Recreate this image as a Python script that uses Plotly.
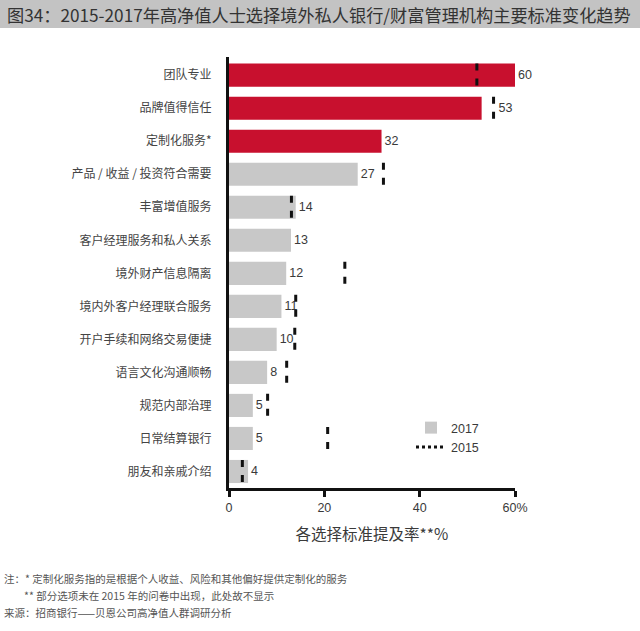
import plotly.graph_objects as go

categories = ['团队专业', '品牌值得信任', '定制化服务*', '产品 / 收益 / 投资符合需要', '丰富增值服务',
              '客户经理服务和私人关系', '境外财产信息隔离', '境内外客户经理联合服务', '开户手续和网络交易便捷',
              '语言文化沟通顺畅', '规范内部治理', '日常结算银行', '朋友和亲戚介绍']
values_2017 = [60, 53, 32, 27, 14, 13, 12, 11, 10, 8, 5, 5, 4]
values_2015 = [52, 55.5, None, 32.4, 13.1, None, 24.3, 14, 13.8, 12.1, 8.1, 20.7, 2.8]
highlight = [True, True, True] + [False] * 10
x_ticks = [0, 20, 40, 60]
x_tick_labels = ['0', '20', '40', '60%']

RED = '#c8102e'
GREY = '#c8c8c8'
TXT = '#3a3a3a'
FONT = 'Noto Sans CJK SC'
NUM_FONT = 'Arial, Liberation Sans'

# plot area in pixels, used to place paper-referenced decorations
L, R, T, B = 229, 515, 57, 488
W, H = R - L, B - T


def px_x(p):
    return (p - L) / W


def px_y(p):
    return (B - p) / H


ypos = list(range(len(categories)))
# value label moves past the 2015 dash when the dash sits right at the bar end
labels = []
for v, old in zip(values_2017, values_2015):
    pad = '    ' if old is not None and 1 < old - v < 3 else ''
    labels.append(pad + str(v))

fig = go.Figure()
fig.add_trace(go.Bar(
    x=values_2017, y=ypos, orientation='h',
    marker=dict(color=[RED if h else GREY for h in highlight], line=dict(width=0)),
    text=labels, textposition='outside', cliponaxis=False,
    textfont=dict(size=12.5, color=TXT, family=NUM_FONT),
    width=0.7, showlegend=False, hoverinfo='skip',
))
# legend entry for 2017 (grey square)
fig.add_trace(go.Bar(x=[None], y=[None], orientation='h', name='2017',
                     marker=dict(color=GREY, line=dict(width=0))))

# 2015: short dashed vertical bars across each category
xs, ys = [], []
for i, v in enumerate(values_2015):
    if v is None:
        continue
    xs += [v, v, None]
    ys += [i - 0.35, i + 0.35, None]
fig.add_trace(go.Scatter(
    x=xs, y=ys, mode='lines', line=dict(color='#111111', width=3, dash='7px,8px'),
    showlegend=False, hoverinfo='skip',
))
fig.add_trace(go.Scatter(
    x=[None], y=[None], mode='lines', name='2015',
    line=dict(color='#111111', width=3, dash='3px,3px'),
))

fig.update_layout(
    width=640, height=631,
    margin=dict(l=L, r=640 - R, t=T, b=631 - B),
    plot_bgcolor='white', paper_bgcolor='white',
    font=dict(family=FONT, color=TXT, size=12),
    barmode='overlay', bargap=0.3, hovermode=False,
    legend=dict(x=px_x(411), y=px_y(413), xanchor='left', yanchor='top',
                font=dict(size=12.5, color=TXT, family=NUM_FONT),
                bgcolor='rgba(0,0,0,0)', tracegroupgap=2, itemwidth=30),
    xaxis=dict(range=[0, 60], tickvals=x_ticks, ticktext=x_tick_labels, automargin=False,
               showgrid=False, zeroline=False, showline=True, linecolor='#111111', linewidth=3,
               ticks='outside', ticklen=6, tickwidth=3, tickcolor='#111111',
               tickfont=dict(size=12.5, color=TXT, family=NUM_FONT),
               title=dict(text='各选择标准提及率**%', standoff=16,
                          font=dict(size=15.5, color=TXT, family=FONT))),
    yaxis=dict(range=[12.5, -0.55], tickvals=ypos, ticktext=categories, automargin=False,
               showgrid=False, zeroline=False, showline=True, linecolor='#111111', linewidth=3,
               ticks='', ticklabelstandoff=12,
               tickfont=dict(size=12, color='#444444', family=FONT)),
)

# grey title band
fig.add_shape(type='rect', xref='paper', yref='paper',
              x0=px_x(0), x1=px_x(640), y0=px_y(28), y1=px_y(0),
              fillcolor='#c3c3c3', line=dict(width=0), layer='below')
fig.add_annotation(text='图34：2015-2017年高净值人士选择境外私人银行/财富管理机构主要标准变化趋势',
                   xref='paper', yref='paper', x=px_x(5), y=px_y(14),
                   xanchor='left', yanchor='middle', showarrow=False,
                   font=dict(size=17.2, color='#333333', family=FONT))

notes = [
    (2, 578, '注：* 定制化服务指的是根据个人收益、风险和其他偏好提供定制化的服务'),
    (22, 595, '** 部分选项未在 2015 年的问卷中出现，此处故不显示'),
    (2, 612, '来源：招商银行——贝恩公司高净值人群调研分析'),
]
for nx, ny, t in notes:
    fig.add_annotation(text=t, xref='paper', yref='paper', x=px_x(nx), y=px_y(ny),
                       xanchor='left', yanchor='middle', showarrow=False,
                       font=dict(size=10.5, color='#555555', family=FONT))

fig.write_html('out.html', config={'displayModeBar': False},
               post_script="document.body.style.margin='0';")
